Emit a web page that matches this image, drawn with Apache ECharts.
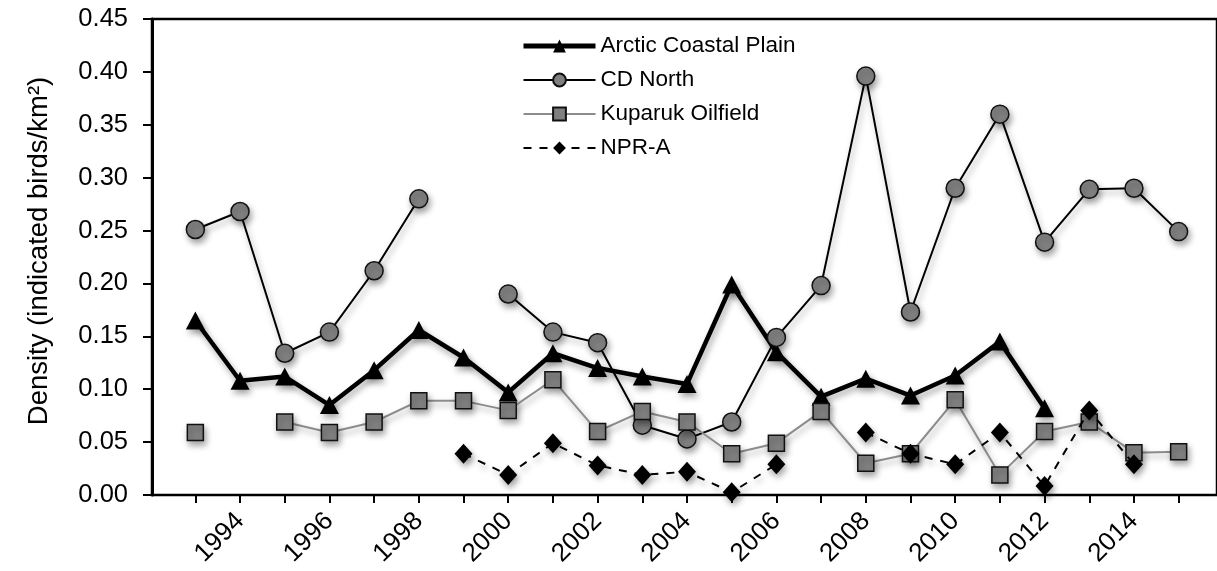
<!DOCTYPE html>
<html>
<head>
<meta charset="utf-8">
<script src="https://cdn.jsdelivr.net/npm/echarts@6/dist/echarts.min.js"></script>
<style>
html,body{margin:0;padding:0;background:#fff;}
#chart{width:1217px;height:571px;}
</style>
</head>
<body>
<div id="chart"></div>
<script>
// ---- data ----
var years = ['1993','1994','1995','1996','1997','1998','1999','2000','2001','2002','2003','2004','2005','2006','2007','2008','2009','2010','2011','2012','2013','2014','2015'];
var arcticCoastalPlain = [0.165,0.108,0.112,0.085,0.118,0.156,0.130,0.097,0.134,0.120,0.112,0.105,0.199,0.135,0.093,0.110,0.094,0.113,0.145,0.082,null,null,null];
var cdNorth = [0.251,0.268,0.134,0.154,0.212,0.280,null,0.190,0.154,0.144,0.066,0.053,0.069,0.149,0.198,0.396,0.173,0.290,0.360,0.239,0.289,0.290,0.249];
var kuparukOilfield = [0.059,null,0.069,0.059,0.069,0.089,0.089,0.080,0.109,0.060,0.079,0.069,0.039,0.049,0.079,0.030,0.039,0.090,0.019,0.060,0.069,0.040,0.041];
var nprA = [null,null,null,null,null,null,0.039,0.019,0.049,0.028,0.019,0.022,0.0025,0.029,null,0.059,0.039,0.029,0.059,0.0085,0.080,0.029,null];
var yTicks = {min: 0, max: 0.45, interval: 0.05};
var seriesNames = ['Arctic Coastal Plain','CD North','Kuparuk Oilfield','NPR-A'];
var yTitle = 'Density (indicated birds/km\u00B2)';

var FONT = '"Liberation Sans", Arial, Helvetica, sans-serif';
var shadow = {shadowColor: 'rgba(0,0,0,0.35)', shadowBlur: 6, shadowOffsetX: 2, shadowOffsetY: 4};
function withShadow(o){ for (var k in shadow) o[k] = shadow[k]; return o; }
var noShadow = {shadowBlur: 0, shadowColor: 'transparent', shadowOffsetX: 0, shadowOffsetY: 0};
function plain(o){ for (var k in noShadow) o[k] = noShadow[k]; return o; }

var chart = echarts.init(document.getElementById('chart'), null, {renderer: 'canvas'});
chart.setOption({
  animation: false,
  backgroundColor: '#fff',
  grid: [
    {left: 152, right: -30, top: 19, bottom: 76, show: true, borderColor: '#000', borderWidth: 2.5, backgroundColor: 'transparent'},
    {left: 173, right: 16, top: 19, bottom: 76}
  ],
  legend: {
    orient: 'vertical',
    left: 516, top: 29,
    itemWidth: 72, itemHeight: 16, itemGap: 10,
    textStyle: {fontSize: 22.5, lineHeight: 24, color: '#000', fontFamily: FONT},
    itemStyle: plain({}),
    lineStyle: plain({}),
    data: [
      {name: seriesNames[0], lineStyle: plain({width: 5, color: '#000'})},
      {name: seriesNames[1], lineStyle: plain({width: 2, color: '#000'})},
      {name: seriesNames[2], lineStyle: plain({width: 2, color: '#8c8c8c'})},
      {name: seriesNames[3], lineStyle: plain({width: 2, color: '#000', type: [8, 8]})}
    ]
  },
  xAxis: [
    {gridIndex: 0, type: 'value', show: false, min: 0, max: 1},
    {
      gridIndex: 1, type: 'category', data: years, boundaryGap: true,
      axisLine: {show: true, lineStyle: {color: '#000', width: 2}},
      axisTick: {show: true, alignWithLabel: true, interval: 0, length: 8, lineStyle: {color: '#000', width: 2}},
      axisLabel: {
        interval: function (i) { return i % 2 === 1; },
        rotate: 45, margin: 22, fontSize: 26, color: '#000', fontFamily: FONT
      },
      splitLine: {show: false}
    }
  ],
  yAxis: [
    {
      gridIndex: 0, type: 'value', min: yTicks.min, max: yTicks.max, interval: yTicks.interval,
      name: yTitle, nameLocation: 'middle', nameGap: 99, nameRotate: 90,
      nameTextStyle: {fontSize: 27.5, color: '#000', fontFamily: FONT, padding: [0, 0, 0, 12]},
      axisLine: {show: true, lineStyle: {color: '#000', width: 3}},
      axisTick: {show: true, inside: false, length: 9, lineStyle: {color: '#000', width: 2}},
      axisLabel: {margin: 24, fontSize: 25.5, color: '#000', fontFamily: FONT,
        formatter: function (v) { return v.toFixed(2); }},
      splitLine: {show: false}
    },
    {gridIndex: 1, type: 'value', show: false, min: yTicks.min, max: yTicks.max, interval: yTicks.interval, splitLine: {show: false}}
  ],
  series: [
    {
      name: seriesNames[0], type: 'line', xAxisIndex: 1, yAxisIndex: 1, data: arcticCoastalPlain,
      connectNulls: false, symbol: 'triangle', symbolSize: [19, 18], showAllSymbol: true,
      lineStyle: withShadow({color: '#000', width: 4.5}),
      itemStyle: withShadow({color: '#000', borderColor: '#000', borderWidth: 0}),
      z: 2
    },
    {
      name: seriesNames[1], type: 'line', xAxisIndex: 1, yAxisIndex: 1, data: cdNorth,
      connectNulls: false, symbol: 'circle', symbolSize: 18, showAllSymbol: true,
      lineStyle: withShadow({color: '#000', width: 2}),
      itemStyle: withShadow({color: '#808080', borderColor: '#111', borderWidth: 1.5}),
      z: 3
    },
    {
      name: seriesNames[2], type: 'line', xAxisIndex: 1, yAxisIndex: 1, data: kuparukOilfield,
      connectNulls: false, symbol: 'rect', symbolSize: 16, showAllSymbol: true,
      lineStyle: withShadow({color: '#8c8c8c', width: 2}),
      itemStyle: withShadow({color: '#808080', borderColor: '#111', borderWidth: 1.5}),
      z: 4
    },
    {
      name: seriesNames[3], type: 'line', xAxisIndex: 1, yAxisIndex: 1, data: nprA,
      connectNulls: false, symbol: 'diamond', symbolSize: [18, 20], showAllSymbol: true,
      lineStyle: withShadow({color: '#000', width: 2, type: [8, 8]}),
      itemStyle: withShadow({color: '#000', borderColor: '#000', borderWidth: 0}),
      z: 5
    }
  ]
});
</script>
</body>
</html>
